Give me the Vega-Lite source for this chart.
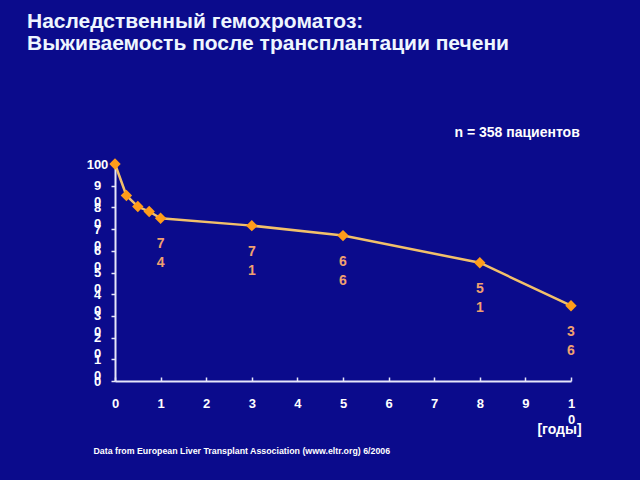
{
  "$schema": "https://vega.github.io/schema/vega-lite/v6.json",
  "autosize": {"type": "none"},
  "width": 456,
  "height": 217,
  "padding": {"left": 115, "top": 164, "right": 69, "bottom": 99},
  "background": "#0b0b8c",
  "config": {
    "view": {"stroke": null},
    "font": "Liberation Sans",
    "axis": {"grid": false, "labelFont": "Liberation Sans", "titleFont": "Liberation Sans"}
  },
  "title": {
    "text": ["Наследственный гемохроматоз:", "Выживаемость после трансплантации печени"],
    "anchor": "start",
    "frame": "group",
    "dx": -88,
    "offset": 71,
    "fontSize": 21,
    "lineHeight": 22,
    "font": "Liberation Sans",
    "fontWeight": "bold",
    "color": "#eef6ff"
  },
  "data": {
    "values": [
      {"t": 0, "s": 100, "label": null},
      {"t": 0.25, "s": 85.5, "label": null},
      {"t": 0.5, "s": 80.4, "label": null},
      {"t": 0.75, "s": 78.1, "label": null},
      {"t": 1, "s": 75, "label": "74"},
      {"t": 3, "s": 71.6, "label": "71"},
      {"t": 5, "s": 67, "label": "66"},
      {"t": 8, "s": 54.5, "label": "51"},
      {"t": 10, "s": 34.7, "label": "36"}
    ]
  },
  "encoding": {
    "x": {
      "field": "t",
      "type": "quantitative",
      "scale": {"domain": [0, 10], "nice": false},
      "axis": {
        "values": [0, 1, 2, 3, 4, 5, 6, 7, 8, 9, 10],
        "labelExpr": "datum.value == 10 ? split(datum.label, '') : datum.label",
        "labelFlush": false,
        "labelOverlap": false,
        "labelBound": false,
        "labelColor": "#ffffff",
        "labelFontSize": 13,
        "labelFontWeight": "bold",
        "labelLineHeight": 16,
        "labelPadding": 20,
        "tickSize": -4,
        "tickColor": "#e6e6fa",
        "tickWidth": 1.5,
        "domainColor": "#e6e6fa",
        "domainWidth": 2,
        "title": "[годы]",
        "titleColor": "#ffffff",
        "titleFontSize": 14,
        "titleFontWeight": "bold",
        "titleAlign": "center",
        "titleBaseline": "middle",
        "titleAnchor": null,
        "titleX": 444,
        "titleY": 48
      }
    }
  },
  "layer": [
    {
      "mark": {"type": "line", "color": "#f2c06a", "strokeWidth": 2.5},
      "encoding": {
        "y": {
          "field": "s",
          "type": "quantitative",
          "scale": {"domain": [0, 100], "nice": false},
          "axis": {
            "values": [0, 10, 20, 30, 40, 50, 60, 70, 80, 90, 100],
            "labelExpr": "datum.value == 100 || datum.value == 0 ? datum.label : split(datum.label, '')",
            "labelFlush": false,
            "labelOverlap": false,
            "labelBound": false,
            "labelAlign": "center",
            "labelColor": "#ffffff",
            "labelFontSize": 13,
            "labelFontWeight": "bold",
            "labelLineHeight": 16,
            "labelPadding": 14,
            "tickSize": 4,
            "tickColor": "#e6e6fa",
            "tickWidth": 1.5,
            "domainColor": "#e6e6fa",
            "domainWidth": 2,
            "title": "n = 358 пациентов",
            "titleColor": "#ffffff",
            "titleFontSize": 14,
            "titleFontWeight": "bold",
            "titleAngle": 0,
            "titleAlign": "left",
            "titleBaseline": "middle",
            "titleAnchor": null,
            "titleX": 339,
            "titleY": -32
          }
        }
      }
    },
    {
      "mark": {"type": "point", "shape": "diamond", "filled": true, "opacity": 1, "color": "#ff9c1a", "size": 130},
      "encoding": {
        "y": {"field": "s", "type": "quantitative", "scale": {"domain": [0, 100], "nice": false}, "axis": null}
      }
    },
    {
      "transform": [
        {"filter": "datum.label != null"},
        {"calculate": "split(datum.label, '')", "as": "lines"}
      ],
      "mark": {"type": "text", "color": "#f0a070", "fontSize": 14, "fontWeight": "bold", "baseline": "middle", "align": "center", "dy": 26, "lineHeight": 19},
      "encoding": {
        "y": {
          "field": "s",
          "type": "quantitative",
          "scale": {"domain": [0, 100], "nice": false},
          "axis": {
            "orient": "right",
            "labels": false,
            "ticks": false,
            "domain": false,
            "title": "Data from European Liver Transplant Association (www.eltr.org) 6/2006",
            "titleColor": "#ffffff",
            "titleFontSize": 8.8,
            "titleFontWeight": "bold",
            "titleAngle": 0,
            "titleAlign": "left",
            "titleBaseline": "middle",
            "titleAnchor": null,
            "titleX": -478,
            "titleY": 286
          }
        },
        "text": {"field": "lines"}
      }
    }
  ],
  "resolve": {"scale": {"y": "independent"}}
}
